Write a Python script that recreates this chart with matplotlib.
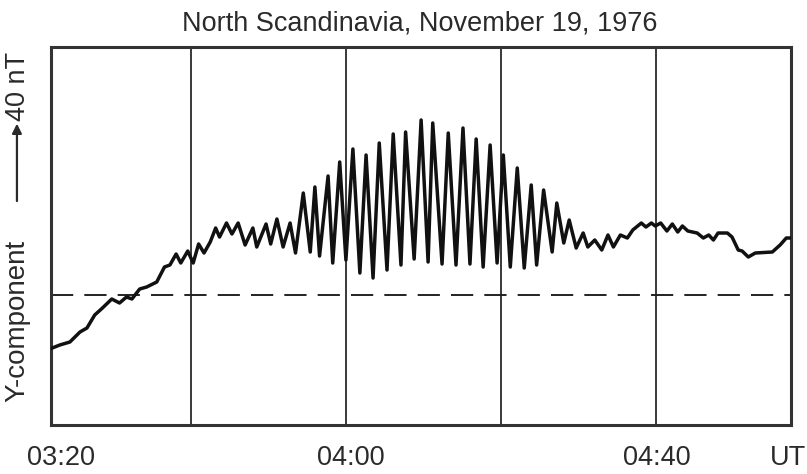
import matplotlib
matplotlib.use("Agg")
import matplotlib.pyplot as plt

plt.rcParams['font.family'] = ['Liberation Sans', 'DejaVu Sans']
plt.rcParams['lines.scale_dashes'] = False

# time in minutes after 03:00 UT
time_min = [21.8, 23.1, 24.4, 25.7, 26.6, 27.6, 28.6, 29.8, 30.8, 31.7,
            32.4, 33.4, 34.3, 35.6, 36.6, 37.3, 38.1, 38.7, 39.6, 40.3,
            41.0, 41.7, 42.5, 43.2, 43.7, 44.6, 45.3, 46.1, 47.0, 48.0,
            48.5, 49.7, 50.3, 51.1, 51.9, 52.8, 53.5, 54.5, 55.4, 56.0,
            56.6, 57.7, 58.3, 59.2, 60.0, 60.9, 61.8, 62.6, 63.5, 64.3,
            65.3, 66.1, 67.1, 67.7, 68.8, 69.7, 70.6, 71.2, 72.4, 73.2,
            74.2, 75.1, 76.0, 76.8, 77.7, 78.6, 79.5, 80.3, 81.2, 82.1,
            83.0, 83.9, 84.6, 85.5, 86.6, 87.2, 88.1, 88.8, 89.7, 90.6,
            91.2, 92.1, 93.0, 93.8, 94.5, 95.4, 96.3, 97.0, 98.1, 98.7,
            99.4, 99.9, 100.6, 101.4, 102.1, 102.8, 103.4, 104.1, 105.3, 106.1,
            106.8, 107.4, 108.0, 109.2, 109.8, 110.6, 111.1, 111.9, 112.8, 115.0,
            116.0, 116.8, 117.3]

# Y-component (nT) relative to the dashed baseline
y_nT = [-27, -25, -23.5, -18.5, -16.5, -10, -6.5, -2, -4, -1,
        -2, 3, 4, 6.5, 14, 15, 20.5, 16, 22, 16,
        25.5, 21, 26.5, 33.5, 29, 36, 30.5, 36, 25, 33.5,
        24, 35.5, 25.5, 38, 24, 36, 21, 51, 21.5, 54,
        19.5, 59.5, 16, 66.5, 17.5, 73, 11, 70, 8.5, 76,
        12.5, 80.5, 15, 81.5, 18, 87.5, 16.5, 86, 15.5, 81,
        15, 83.5, 15.5, 78, 14, 75, 16, 70, 14, 63.5,
        13.5, 55, 15, 52.5, 21.5, 46, 26, 37.5, 23.5, 31,
        24, 27.5, 22.5, 30, 24, 30, 28.5, 32.5, 36, 34,
        36, 34.5, 36, 32, 35.5, 31.5, 34.5, 32, 31, 28.5,
        30, 27.5, 31, 31, 29, 22.5, 22, 19, 21, 21.5,
        25, 28.5, 28.5]

grid_minutes = [40, 60, 80, 100]
tick_labels = ["03:20", "04:00", "04:40", "UT"]
tick_label_pos = [23.2, 60.6, 100.1, 117.0]
baseline_nT = 0

title = "North Scandinavia, November 19, 1976"
text_color = "#2a2a2a"

fig = plt.figure(figsize=(8.07, 4.74), dpi=100)
ax = fig.add_axes([0.0626, 0.1034, 0.9175, 0.7974])
ax.set_xlim(21.9, 117.4)
ax.set_ylim(-65, 124)

for g in grid_minutes:
    ax.axvline(g, color="#2a2a2a", lw=1.3, zorder=1)
ax.axhline(baseline_nT, color="#222222", lw=1.4, dashes=(16, 8), zorder=1)
ax.plot(time_min, y_nT, color="#111111", lw=2.5, solid_joinstyle="round",
        solid_capstyle="round", zorder=3)

for s in ax.spines.values():
    s.set_linewidth(2.2)
    s.set_color("#333333")
ax.set_xticks([])
ax.set_yticks([])

for pos, lab in zip(tick_label_pos, tick_labels):
    ax.text(pos, -0.106, lab, transform=ax.get_xaxis_transform(),
            ha="center", va="baseline", fontsize=19.5, color=text_color)

fig.text(0.52, 0.935, title, ha="center", va="baseline", fontsize=19.5, color=text_color)

fig.text(0.022, 0.322, "Y-component", rotation=90, ha="center", va="center",
         fontsize=20, color=text_color)
fig.text(0.022, 0.8175, "40 nT", rotation=90, ha="center", va="center",
         fontsize=19.5, color=text_color)
fig.patches.append(matplotlib.patches.FancyArrowPatch(
    (0.021, 0.570), (0.021, 0.745), transform=fig.transFigure,
    arrowstyle="-|>", mutation_scale=14, lw=1.6, color=text_color))

fig.savefig("out.png", dpi=100)
